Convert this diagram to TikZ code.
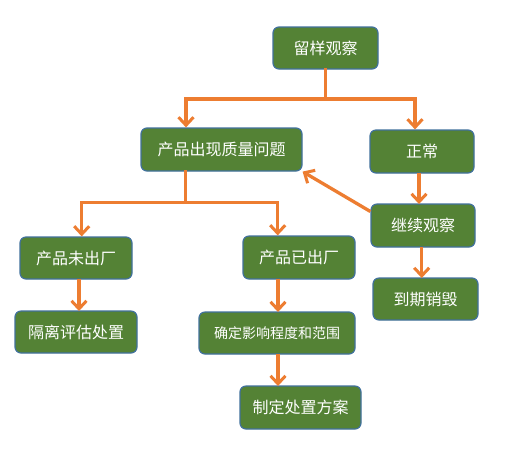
\documentclass[tikz,border=0pt]{standalone}
\usepackage{fontspec}
\newfontfamily\cjk{Noto Sans CJK SC}
\usetikzlibrary{arrows.meta}
\definecolor{boxgreen}{HTML}{548235}
\definecolor{boxedge}{HTML}{41719C}
\definecolor{arr}{HTML}{ED7D31}
\begin{document}
\begin{tikzpicture}[x=1pt,y=-1pt,
  box/.style={draw=boxedge,line width=1.2pt,fill=boxgreen,rounded corners=6pt,text=white,font=\cjk\fontsize{16}{19}\selectfont,inner sep=0pt},
  conn/.style={draw=arr,line width=3.3pt,-{Straight Barb[length=8pt,width=15pt,line width=3pt]}},
  seg/.style={draw=arr,line width=3.3pt}]
\useasboundingbox (0,0) rectangle (510,467);
\fill[white] (0,0) rectangle (510,467);
\node[box,minimum width=105pt,minimum height=42pt] (a) at (325.5,48) {留样观察};
\node[box,minimum width=161pt,minimum height=43pt] (b) at (221.5,149.5) {产品出现质量问题};
\node[box,minimum width=104pt,minimum height=43pt] (c) at (422,151.5) {正常};
\node[box,minimum width=104pt,minimum height=43pt] (d) at (423,225.5) {继续观察};
\node[box,minimum width=112pt,minimum height=42pt] (e) at (76,258) {产品未出厂};
\node[box,minimum width=112pt,minimum height=43pt] (f) at (299,257.5) {产品已出厂};
\node[box,minimum width=105pt,minimum height=42pt] (g) at (425.5,299) {到期销毁};
\node[box,minimum width=122pt,minimum height=42pt] (h) at (76,332) {隔离评估处置};
\node[box,minimum width=156pt,minimum height=42pt,font=\cjk\fontsize{14}{17}\selectfont] (i) at (277,333) {确定影响程度和范围};
\node[box,minimum width=121pt,minimum height=43pt] (j) at (300.5,407.5) {制定处置方案};
\coordinate (a1) at (325.7,99);
\coordinate (aL) at (186,99);
\coordinate (aR) at (415,99);
\coordinate (b1) at (185.7,202.7);
\coordinate (bL) at (81.7,202.7);
\coordinate (bR) at (277.7,202.7);
\draw[seg,line cap=rect] (a.south -| a1) -- (a1);
\draw[conn] (a1) -- (aL) -- (aL |- b.north);
\draw[conn] (a1) -- (aR) -- (aR |- c.north);
\draw[seg,line cap=rect] (b.south -| b1) -- (b1);
\draw[conn] (b1) -- (bL) -- (bL |- e.north);
\draw[conn] (b1) -- (bR) -- (bR |- f.north);
\draw[conn] (419,173) -- (419,204);
\draw[conn] (d.west) ++(0,-14) -- (b.south east);
\draw[conn] (79,279) -- (79,311);
\draw[conn] (278,279) -- (278,312);
\draw[conn] (278,354) -- (278,386);
\draw[conn] (421.7,247) -- (421.7,278);
\end{tikzpicture}
\end{document}
